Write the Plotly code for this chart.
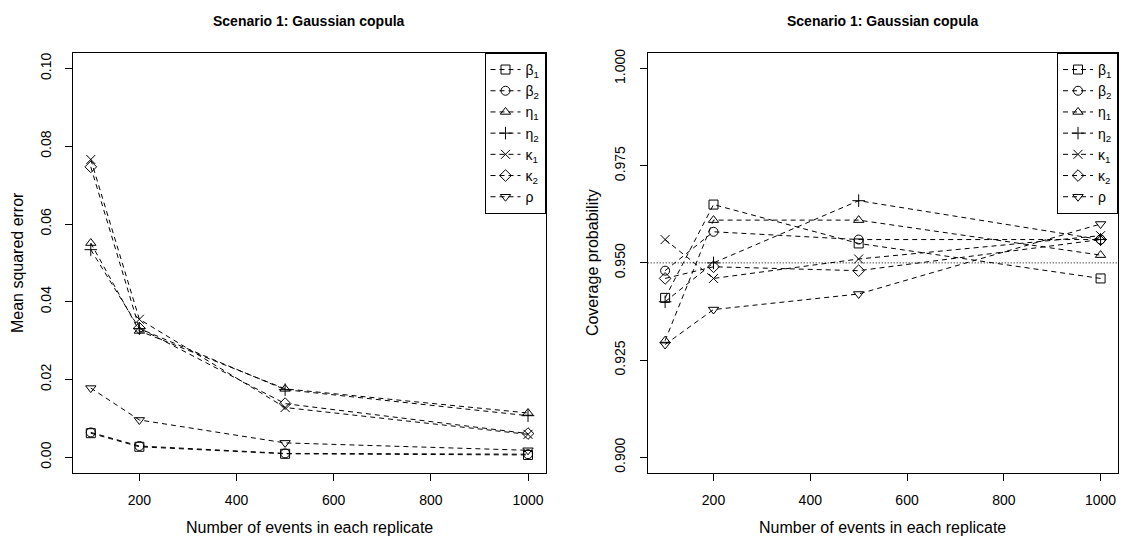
import plotly.graph_objects as go

# ---------------- data ----------------
n_events = [100, 200, 500, 1000]
series_names = ["β<sub>1</sub>", "β<sub>2</sub>", "η<sub>1</sub>", "η<sub>2</sub>",
                "κ<sub>1</sub>", "κ<sub>2</sub>", "ρ"]
symbols = ["square-open", "circle-open", "triangle-up-open", "cross-thin-open",
           "x-thin-open", "diamond-open", "triangle-down-open"]

mse_beta1 = [0.0062, 0.0027, 0.0009, 0.0006]
mse_beta2 = [0.0064, 0.0029, 0.0010, 0.0008]
mse_eta1 = [0.0551, 0.0325, 0.0176, 0.0114]
mse_eta2 = [0.0534, 0.0331, 0.0174, 0.0107]
mse_kappa1 = [0.0766, 0.0355, 0.0128, 0.0059]
mse_kappa2 = [0.0747, 0.0332, 0.0138, 0.0061]
mse_rho = [0.0178, 0.0096, 0.0037, 0.0018]

cov_beta1 = [0.941, 0.965, 0.955, 0.946]
cov_beta2 = [0.948, 0.958, 0.956, 0.956]
cov_eta1 = [0.930, 0.961, 0.961, 0.952]
cov_eta2 = [0.940, 0.950, 0.966, 0.956]
cov_kappa1 = [0.956, 0.946, 0.951, 0.957]
cov_kappa2 = [0.946, 0.949, 0.948, 0.956]
cov_rho = [0.929, 0.938, 0.942, 0.960]

mse_all = [mse_beta1, mse_beta2, mse_eta1, mse_eta2, mse_kappa1, mse_kappa2, mse_rho]
cov_all = [cov_beta1, cov_beta2, cov_eta1, cov_eta2, cov_kappa1, cov_kappa2, cov_rho]

x_ticks = [200, 400, 600, 800, 1000]
mse_ticks = [0.00, 0.02, 0.04, 0.06, 0.08, 0.10]
cov_ticks = [0.900, 0.925, 0.950, 0.975, 1.000]
nominal = 0.95

title_text = "Scenario 1: Gaussian copula"
xlab = "Number of events in each replicate"
ylab_left = "Mean squared error"
ylab_right = "Coverage probability"

# ---------------- layout helpers ----------------
W, H = 1124, 546
FONT = "Liberation Sans, Arial, sans-serif"


def px(x):
    return x / W


def py(y):
    return 1 - y / H


left_dom = [px(73.3), px(545.5)]
right_dom = [px(647.7), px(1118)]
y_dom = [py(472.3), py(49.3)]

fig = go.Figure()

for i in range(7):
    fig.add_trace(go.Scatter(
        x=n_events, y=mse_all[i], mode="lines+markers", name=series_names[i],
        line=dict(color="black", width=1, dash="5px,4px"),
        marker=dict(symbol=symbols[i], size=9, color="black",
                    line=dict(width=1, color="black")),
        xaxis="x", yaxis="y", legend="legend", showlegend=True))

for i in range(7):
    fig.add_trace(go.Scatter(
        x=n_events, y=cov_all[i], mode="lines+markers", name=series_names[i],
        line=dict(color="black", width=1, dash="5px,4px"),
        marker=dict(symbol=symbols[i], size=9, color="black",
                    line=dict(width=1, color="black")),
        xaxis="x2", yaxis="y2", legend="legend2", showlegend=True))

axis_common = dict(showline=True, linecolor="black", linewidth=1, mirror=True,
                   ticks="outside", ticklen=7, tickwidth=1, tickcolor="black",
                   showgrid=False, zeroline=False,
                   tickfont=dict(family=FONT, size=14, color="black"))

fig.update_layout(
    width=W, height=H,
    margin=dict(l=0, r=0, t=0, b=0),
    paper_bgcolor="white", plot_bgcolor="white",
    font=dict(family=FONT, size=14, color="black"),
    xaxis=dict(domain=left_dom, range=[64, 1036], tickvals=x_ticks,
               anchor="y", ticklabelstandoff=7, **axis_common),
    yaxis=dict(domain=y_dom, range=[-0.004, 0.104], tickvals=mse_ticks,
               ticktext=[f"{v:.2f}" for v in mse_ticks], tickangle=-90,
               anchor="x", ticklabelstandoff=9, **axis_common),
    xaxis2=dict(domain=right_dom, range=[64, 1036], tickvals=x_ticks,
                anchor="y2", ticklabelstandoff=7, **axis_common),
    yaxis2=dict(domain=y_dom, range=[0.896, 1.004], tickvals=cov_ticks,
                ticktext=[f"{v:.3f}" for v in cov_ticks], tickangle=-90,
                anchor="x2", ticklabelstandoff=9, **axis_common),
    legend=dict(x=left_dom[1], y=y_dom[1], xanchor="right", yanchor="top",
                bordercolor="black", borderwidth=1, bgcolor="white",
                font=dict(family=FONT, size=14, color="black"),
                itemwidth=30, tracegroupgap=0),
    legend2=dict(x=right_dom[1], y=y_dom[1], xanchor="right", yanchor="top",
                 bordercolor="black", borderwidth=1, bgcolor="white",
                 font=dict(family=FONT, size=14, color="black"),
                 itemwidth=30, tracegroupgap=0),
    showlegend=True,
)

# nominal coverage reference line (dotted)
fig.add_shape(type="line", xref="x2 domain", yref="y2", x0=0, x1=1,
              y0=nominal, y1=nominal,
              line=dict(color="black", width=1, dash="1px,2px"), layer="below")

# titles and axis labels
for cx in [(73.3 + 545.5) / 2, (647.7 + 1118) / 2]:
    fig.add_annotation(text=f"<b>{title_text}</b>", x=px(cx), y=py(17),
                       xref="paper", yref="paper", showarrow=False,
                       xanchor="center", yanchor="middle",
                       font=dict(family=FONT, size=14, color="black"))
    fig.add_annotation(text=xlab, x=px(cx), y=py(527), xref="paper", yref="paper",
                       showarrow=False, xanchor="center", yanchor="middle",
                       font=dict(family=FONT, size=16, color="black"))

fig.add_annotation(text=ylab_left, x=px(17), y=py(261), xref="paper", yref="paper",
                   showarrow=False, textangle=-90, xanchor="center", yanchor="middle",
                   font=dict(family=FONT, size=16, color="black"))
fig.add_annotation(text=ylab_right, x=px(592), y=py(261), xref="paper", yref="paper",
                   showarrow=False, textangle=-90, xanchor="center", yanchor="middle",
                   font=dict(family=FONT, size=16, color="black"))

fig.write_html("out.html")
